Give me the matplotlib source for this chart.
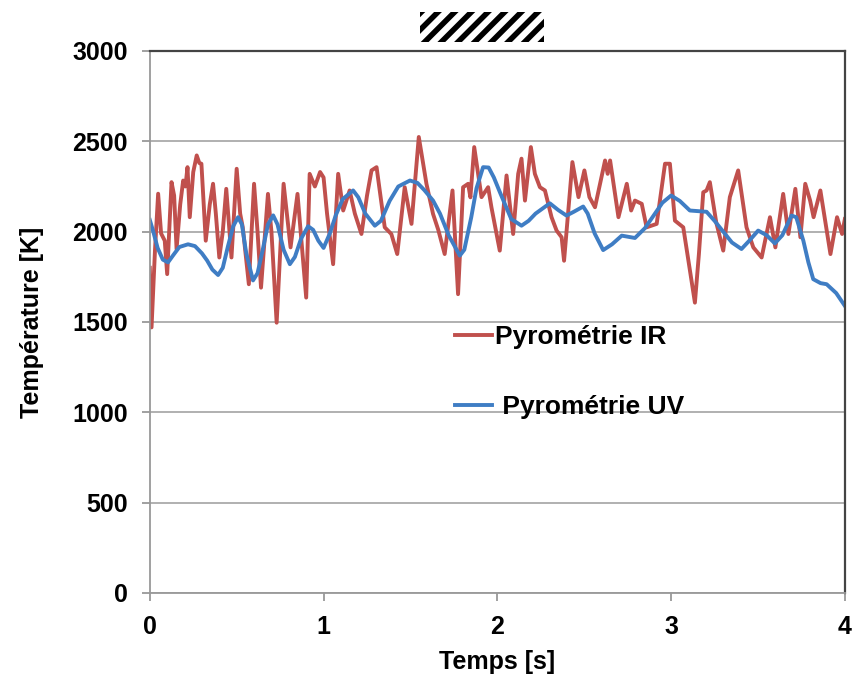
import matplotlib.pyplot as plt
from matplotlib.patches import Rectangle

# Pyrométrie IR (temps [s], température [K])
ir_t = [0.0, 0.01, 0.03, 0.048, 0.065, 0.086, 0.1, 0.125, 0.14, 0.154, 0.175, 0.192, 0.205, 0.217,
        0.23, 0.25, 0.27, 0.285, 0.297, 0.322, 0.345, 0.364, 0.38, 0.4, 0.42, 0.44, 0.47, 0.485,
        0.5, 0.52, 0.535, 0.57, 0.6, 0.62, 0.64, 0.68, 0.7, 0.73, 0.77, 0.81, 0.85, 0.9, 0.92,
        0.95, 0.98, 1.0, 1.02, 1.055, 1.084, 1.113, 1.15, 1.18, 1.218, 1.25, 1.276, 1.305, 1.352,
        1.39, 1.424, 1.467, 1.506, 1.548, 1.592, 1.63, 1.66, 1.697, 1.742, 1.774, 1.803, 1.832,
        1.845, 1.867, 1.909, 1.947, 1.966, 2.014, 2.053, 2.091, 2.12, 2.139, 2.159, 2.193, 2.216,
        2.245, 2.274, 2.312, 2.341, 2.37, 2.384, 2.432, 2.467, 2.501, 2.53, 2.562, 2.62, 2.635,
        2.649, 2.697, 2.745, 2.77, 2.792, 2.831, 2.859, 2.917, 2.965, 2.993, 3.022, 3.07, 3.137,
        3.16, 3.185, 3.204, 3.223, 3.26, 3.3, 3.338, 3.386, 3.434, 3.473, 3.521, 3.569, 3.6,
        3.645, 3.675, 3.715, 3.744, 3.772, 3.8, 3.82, 3.859, 3.917, 3.955, 3.984, 4.0]
ir_v = [1800, 1470, 1900, 2210, 1990, 1950, 1765, 2274, 2200, 1904, 2150, 2283, 2250, 2357,
        2080, 2330, 2422, 2380, 2376, 1950, 2150, 2265, 2100, 1857, 2000, 2237, 1857, 2100,
        2348, 2100, 2024, 1709, 2265, 2000, 1690, 2209, 2000, 1496, 2265, 1913, 2209, 1635, 2320,
        2250, 2330, 2300, 2100, 1820, 2320, 2117, 2228, 2100, 1987, 2200, 2339, 2357, 2024,
        1987, 1876, 2246, 2043, 2524, 2265, 2098, 2010, 1876, 2228, 1654, 2246, 2265,
        2190, 2468, 2191, 2246, 2135, 1895, 2311, 1987, 2320, 2404, 2172, 2468, 2320,
        2246, 2228, 2080, 2006, 1969, 1839, 2385, 2191, 2339, 2191, 2135, 2394, 2320,
        2394, 2080, 2265, 2117, 2172, 2154, 2024, 2043, 2376, 2376, 2061, 2024, 1607,
        1876, 2218, 2228, 2274, 2050, 1895, 2191, 2339, 2024, 1913, 1857, 2080, 1913,
        2209, 1987, 2237, 1969, 2265, 2172, 2080, 2228, 1876, 2080, 1987, 2070]

# Pyrométrie UV
uv_t = [0.0, 0.02, 0.045, 0.075, 0.105, 0.135, 0.17, 0.22, 0.26, 0.3, 0.33, 0.36, 0.393, 0.42,
        0.45, 0.48, 0.508, 0.53, 0.555, 0.594, 0.62, 0.65, 0.68, 0.71, 0.735, 0.77, 0.806, 0.835,
        0.87, 0.911, 0.94, 0.97, 1.0, 1.036, 1.07, 1.11, 1.17, 1.2, 1.24, 1.295, 1.33, 1.38, 1.43,
        1.497, 1.54, 1.58, 1.63, 1.67, 1.72, 1.784, 1.81, 1.85, 1.88, 1.918, 1.95, 1.98, 2.014,
        2.043, 2.08, 2.139, 2.18, 2.22, 2.302, 2.35, 2.398, 2.44, 2.494, 2.52, 2.56, 2.609, 2.66,
        2.716, 2.792, 2.85, 2.9, 2.95, 3.0, 3.05, 3.108, 3.204, 3.25, 3.3, 3.35, 3.405, 3.45, 3.501,
        3.55, 3.597, 3.64, 3.693, 3.72, 3.761, 3.79, 3.818, 3.86, 3.895, 3.95, 4.0]
uv_v = [2065, 2000, 1910, 1845, 1830, 1870, 1915, 1930, 1920, 1880, 1840, 1790, 1760, 1800,
        1920, 2030, 2080, 2040, 1880, 1730, 1770, 1900, 2040, 2090, 2040, 1900, 1820, 1860,
        1960, 2030, 2010, 1950, 1910, 1990, 2090, 2180, 2228, 2190, 2100, 2033, 2060, 2170, 2250,
        2283, 2270, 2230, 2172, 2100, 1980, 1867, 1900, 2080, 2240, 2357, 2355, 2300, 2220,
        2154, 2070, 2033, 2060, 2100, 2157, 2120, 2089, 2110, 2139, 2100, 1990, 1898, 1930,
        1978, 1965, 2020, 2090, 2160, 2200, 2170, 2117, 2110, 2060, 2000, 1940, 1904, 1950, 2006,
        1980, 1935, 1980, 2089, 2080, 1950, 1830, 1737, 1715, 1709, 1660, 1589]

plt.rcParams['font.family'] = ['Liberation Sans', 'DejaVu Sans']
plt.rcParams['font.weight'] = 'bold'
plt.rcParams['hatch.linewidth'] = 4

fig = plt.figure(figsize=(8.56, 6.8), dpi=100)
ax = fig.add_axes([0.175, 0.128, 0.812, 0.797])

ax.plot(ir_t, ir_v, color='#C0504D', lw=2.8, label='Pyrométrie IR', solid_joinstyle='round')
ax.plot(uv_t, uv_v, color='#3F7DC4', lw=2.8, label=' Pyrométrie UV', solid_joinstyle='round')

ax.set_xlim(0, 4)
ax.set_ylim(0, 3000)
ax.set_xticks([0, 1, 2, 3, 4])
ax.set_yticks(range(0, 3001, 500))
ax.grid(axis='y', color='#AAAAAA', lw=1.3)
ax.set_axisbelow(True)

for s in ['left', 'bottom']:
    ax.spines[s].set_color('#999999')
    ax.spines[s].set_linewidth(1.3)
for s in ['top', 'right']:
    ax.spines[s].set_color('#444444')
    ax.spines[s].set_linewidth(1.6)
ax.tick_params(direction='out', length=6, width=1.3, color='#999999', labelsize=18)
ax.tick_params(axis='y', pad=10)
ax.tick_params(axis='x', pad=10)

ax.set_xlabel('Temps [s]', fontsize=18, fontweight='bold', labelpad=8)
ax.set_ylabel('Température [K]', fontsize=18, fontweight='bold', labelpad=20)

ax.legend(loc='upper left', bbox_to_anchor=(0.5315, 0.522), bbox_transform=fig.transFigure,
          frameon=False, fontsize=19, handlelength=1.4, handletextpad=0.1,
          labelspacing=1.75, borderpad=0, borderaxespad=0)

# hatched box at the top
fig.patches.append(Rectangle((0.491, 0.938), 0.144, 0.044, transform=fig.transFigure,
                             facecolor='white', edgecolor='black', lw=0, hatch='//', figure=fig))

fig.savefig('out.png', dpi=100)
